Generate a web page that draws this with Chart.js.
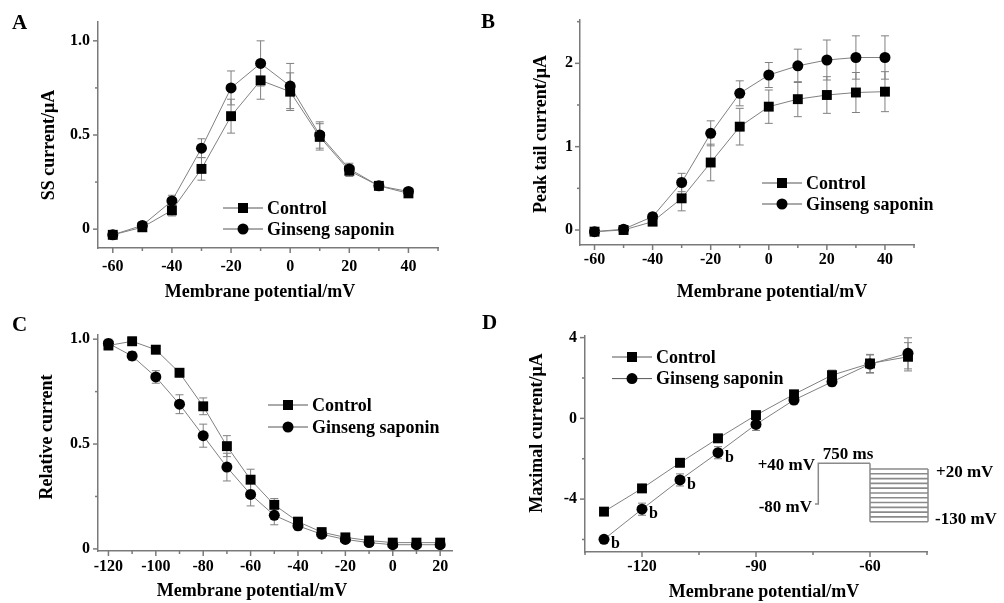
<!DOCTYPE html>
<html><head><meta charset="utf-8">
<script src="https://cdn.jsdelivr.net/npm/chart.js@4.4.1/dist/chart.umd.min.js"></script>
<style>
html,body{margin:0;padding:0;background:#fff;}
body{width:1004px;height:603px;position:relative;overflow:hidden;}
.pane{position:absolute;width:502px;height:302px;}
.pane canvas{display:block;}
.letter{position:absolute;font-family:'Liberation Serif','Times New Roman',serif;font-weight:bold;font-size:21px;line-height:21px;color:#000;}
</style></head><body>
<div class="pane" style="left:0;top:0"><canvas id="cA" width="502" height="302"></canvas></div>
<div class="pane" style="left:502px;top:0"><canvas id="cB" width="502" height="302"></canvas></div>
<div class="pane" style="left:0;top:301px"><canvas id="cC" width="502" height="302"></canvas></div>
<div class="pane" style="left:502px;top:301px"><canvas id="cD" width="502" height="302"></canvas></div>
<div class="letter" style="left:12px;top:12px">A</div>
<div class="letter" style="left:481px;top:11px">B</div>
<div class="letter" style="left:12px;top:314px">C</div>
<div class="letter" style="left:482px;top:312px">D</div>
<script>
// ---------- data ----------
const seriesNames = ['Control', 'Ginseng saponin'];

// Panel A: steady-state current
const voltsA = [-60, -50, -40, -30, -20, -10, 0, 10, 20, 30, 40];
const ssControl = [-0.03, 0.01, 0.10, 0.32, 0.60, 0.79, 0.73, 0.49, 0.31, 0.23, 0.19];
const ssControlErr = [0.02, 0.02, 0.03, 0.06, 0.09, 0.10, 0.10, 0.07, 0.03, 0.02, 0.02];
const ssGinseng = [-0.03, 0.02, 0.15, 0.43, 0.75, 0.88, 0.76, 0.50, 0.32, 0.23, 0.20];
const ssGinsengErr = [0.02, 0.02, 0.03, 0.05, 0.09, 0.12, 0.12, 0.07, 0.03, 0.02, 0.02];

// Panel B: peak tail current
const voltsB = [-60, -50, -40, -30, -20, -10, 0, 10, 20, 30, 40];
const tailControl = [-0.02, 0.00, 0.10, 0.38, 0.81, 1.24, 1.48, 1.57, 1.62, 1.65, 1.66];
const tailControlErr = [0.02, 0.02, 0.04, 0.15, 0.22, 0.22, 0.20, 0.21, 0.22, 0.24, 0.24];
const tailGinseng = [-0.02, 0.01, 0.16, 0.57, 1.16, 1.64, 1.86, 1.97, 2.04, 2.07, 2.07];
const tailGinsengErr = [0.02, 0.02, 0.04, 0.11, 0.15, 0.15, 0.15, 0.20, 0.24, 0.26, 0.26];

// Panel C: relative current
const voltsC = [-120, -110, -100, -90, -80, -70, -60, -50, -40, -30, -20, -10, 0, 10, 20];
const relControl = [0.97, 0.99, 0.95, 0.84, 0.68, 0.49, 0.33, 0.21, 0.13, 0.08, 0.055, 0.04, 0.03, 0.03, 0.03];
const relControlErr = [0.02, 0.02, 0.02, 0.02, 0.04, 0.05, 0.05, 0.03, 0.02, 0.02, 0.01, 0.01, 0.01, 0.01, 0.01];
const relGinseng = [0.98, 0.92, 0.82, 0.69, 0.54, 0.39, 0.26, 0.16, 0.11, 0.07, 0.045, 0.03, 0.02, 0.02, 0.02];
const relGinsengErr = [0.02, 0.02, 0.03, 0.045, 0.055, 0.066, 0.055, 0.045, 0.02, 0.02, 0.01, 0.01, 0.01, 0.01, 0.01];

// Panel D: maximal current
const voltsD = [-130, -120, -110, -100, -90, -80, -70, -60, -50];
const maxControl = [-4.62, -3.47, -2.20, -0.99, 0.16, 1.19, 2.14, 2.72, 3.05];
const maxControlErr = [0.15, 0.2, 0.2, 0.2, 0.2, 0.2, 0.25, 0.45, 0.7];
const maxGinseng = [-5.99, -4.50, -3.05, -1.70, -0.30, 0.91, 1.81, 2.69, 3.22];
const maxGinsengErr = [0.15, 0.3, 0.3, 0.3, 0.3, 0.2, 0.2, 0.45, 0.77];
const sigMarksD = [-130, -120, -110, -100];   // points marked "b"

// ticks (value list + label list; '' = unlabelled minor tick)
const xTicksAB = [-60, -50, -40, -30, -20, -10, 0, 10, 20, 30, 40, 50];
const xLabelsAB = ['-60', '', '-40', '', '-20', '', '0', '', '20', '', '40', ''];
const yTicksA = [0, 0.25, 0.5, 0.75, 1.0];
const yLabelsA = ['0', '', '0.5', '', '1.0'];
const yTicksB = [0, 0.5, 1, 1.5, 2, 2.5];
const yLabelsB = ['0', '', '1', '', '2', ''];
const xTicksC = [-120, -110, -100, -90, -80, -70, -60, -50, -40, -30, -20, -10, 0, 10, 20];
const xLabelsC = ['-120', '', '-100', '', '-80', '', '-60', '', '-40', '', '-20', '', '0', '', '20'];
const yTicksC = [0, 0.25, 0.5, 0.75, 1.0];
const yLabelsC = ['0', '', '0.5', '', '1.0'];
const xTicksD = [-135, -120, -105, -90, -75, -60, -45];
const xLabelsD = ['', '-120', '', '-90', '', '-60', ''];
const yTicksD = [-6, -4, -2, 0, 2, 4];
const yLabelsD = ['', '-4', '', '0', '', '4'];

const xTitle = 'Membrane potential/mV';
const yTitleA = 'SS current/\u03bcA';
const yTitleB = 'Peak tail current/\u03bcA';
const yTitleC = 'Relative current';
const yTitleD = 'Maximal current/\u03bcA';

// ---------- helpers ----------
const FONT = "'Liberation Serif','Times New Roman',serif";
const AXIS_COLOR = '#7a7a7a';
const LINE_COLOR = '#808080';

function drawMarker(ctx, style, x, y) {
  ctx.save();
  ctx.fillStyle = '#000';
  ctx.beginPath();
  if (style === 'rect') { ctx.rect(x - 5, y - 5, 10, 10); }
  else { ctx.arc(x, y, 5.5, 0, Math.PI * 2); }
  ctx.fill();
  ctx.restore();
}

function scaleCfg(axis, min, max, vals, labels, pad, fit) {
  return {
    type: 'linear', min: min, max: max,
    afterBuildTicks: s => { s.ticks = vals.map(v => ({ value: v })); },
    ticks: {
      autoSkip: false, maxRotation: 0, minRotation: 0, padding: pad, color: '#000',
      font: { family: FONT, size: 16, weight: 'bold' },
      callback: v => { const i = vals.indexOf(v); return i >= 0 ? labels[i] : ''; }
    },
    grid: { display: false, drawTicks: false },
    border: { display: true, color: AXIS_COLOR, width: 1.5 },
    afterFit: s => { if (axis === 'x') s.height = fit; else s.width = fit; }
  };
}

function makeDatasets(xs, c, ce, g, ge) {
  return [
    { label: seriesNames[0], data: xs.map((x, i) => ({ x: x, y: c[i] })), errors: ce, pointStyle: 'rect', pointRadius: 7 },
    { label: seriesNames[1], data: xs.map((x, i) => ({ x: x, y: g[i] })), errors: ge, pointStyle: 'circle', pointRadius: 5.5 }
  ].map(d => Object.assign(d, {
    showLine: true, fill: false, tension: 0, borderColor: LINE_COLOR, borderWidth: 1,
    pointBackgroundColor: '#000', pointBorderColor: '#000', pointBorderWidth: 0, pointHoverRadius: d.pointRadius
  }));
}

const errorBars = {
  id: 'errorBars',
  beforeDatasetsDraw(chart) {
    const ctx = chart.ctx, ys = chart.scales.y;
    ctx.save();
    ctx.strokeStyle = LINE_COLOR; ctx.lineWidth = 1;
    chart.data.datasets.forEach((ds, di) => {
      const meta = chart.getDatasetMeta(di);
      ds.data.forEach((p, j) => {
        const e = ds.errors[j]; const el = meta.data[j];
        const y1 = ys.getPixelForValue(p.y + e), y2 = ys.getPixelForValue(p.y - e);
        ctx.beginPath();
        ctx.moveTo(el.x, y1); ctx.lineTo(el.x, y2);
        ctx.moveTo(el.x - 4, y1); ctx.lineTo(el.x + 4, y1);
        ctx.moveTo(el.x - 4, y2); ctx.lineTo(el.x + 4, y2);
        ctx.stroke();
      });
    });
    ctx.restore();
  }
};

const tickMarks = {
  id: 'tickMarks',
  afterDraw(chart) {
    const ctx = chart.ctx;
    ctx.save();
    ctx.strokeStyle = AXIS_COLOR; ctx.lineWidth = 1.5;
    ['x', 'y'].forEach(id => {
      const s = chart.scales[id];
      s.ticks.forEach(t => {
        const len = (t.label && t.label !== '') ? 5 : 3;
        const p = s.getPixelForValue(t.value);
        ctx.beginPath();
        if (id === 'x') { ctx.moveTo(p, s.top); ctx.lineTo(p, s.top + len); }
        else { ctx.moveTo(s.right, p); ctx.lineTo(s.right - len, p); }
        ctx.stroke();
      });
    });
    ctx.restore();
  }
};

const panelText = {
  id: 'panelText',
  afterDraw(chart, args, o) {
    const ctx = chart.ctx, ca = chart.chartArea;
    ctx.save();
    ctx.fillStyle = '#000';
    ctx.font = 'bold 18px ' + FONT;
    ctx.textAlign = 'center'; ctx.textBaseline = 'middle';
    // axis titles
    ctx.fillText(o.xTitle, o.xTitlePos[0], o.xTitlePos[1]);
    ctx.save();
    ctx.translate(o.yTitlePos[0], o.yTitlePos[1]);
    ctx.rotate(-Math.PI / 2);
    ctx.fillText(o.yTitle, 0, 0);
    ctx.restore();
    // legend
    const lx = ca.left + o.legend[0], ly = ca.top + o.legend[1];
    chart.data.datasets.forEach((ds, i) => {
      const y = ly + i * o.legend[2];
      ctx.strokeStyle = '#555'; ctx.lineWidth = 1;
      ctx.beginPath(); ctx.moveTo(lx, y); ctx.lineTo(lx + 40, y); ctx.stroke();
      drawMarker(ctx, ds.pointStyle, lx + 20, y);
      ctx.fillStyle = '#000';
      ctx.textAlign = 'left';
      ctx.fillText(ds.label, lx + 44, y + 1);
    });
    ctx.restore();
  }
};

function makeChart(id, xs, c, ce, g, ge, xScale, yScale, layoutPad, textOpts, extra) {
  return new Chart(document.getElementById(id), {
    type: 'line',
    data: { datasets: makeDatasets(xs, c, ce, g, ge) },
    options: {
      responsive: false, animation: false, devicePixelRatio: 1,
      layout: { padding: layoutPad },
      scales: { x: xScale, y: yScale },
      plugins: { legend: { display: false }, tooltip: { enabled: false }, panelText: textOpts },
      events: []
    },
    plugins: [errorBars, tickMarks, panelText].concat(extra || [])
  });
}

// ---------- panel A ----------
makeChart('cA', voltsA, ssControl, ssControlErr, ssGinseng, ssGinsengErr,
  scaleCfg('x', -65, 50, xTicksAB, xLabelsAB, 9, 54),
  scaleCfg('y', -0.1, 1.1, yTicksA, yLabelsA, 8, 98),
  { left: 0, top: 22, right: 64, bottom: 0 },
  { xTitle: xTitle, xTitlePos: [260, 292], yTitle: yTitleA, yTitlePos: [49, 145], legend: [125, 186, 21] });

// ---------- panel B ----------
makeChart('cB', voltsB, tailControl, tailControlErr, tailGinseng, tailGinsengErr,
  scaleCfg('x', -65, 50, xTicksAB, xLabelsAB, 5.4, 57),
  scaleCfg('y', -0.18, 2.52, yTicksB, yLabelsB, 7, 78),
  { left: 0, top: 20, right: 90, bottom: 0 },
  { xTitle: xTitle, xTitlePos: [270, 292], yTitle: yTitleB, yTitlePos: [39, 134], legend: [182, 163, 21] });

// ---------- panel C ----------
makeChart('cC', voltsC, relControl, relControlErr, relGinseng, relGinsengErr,
  scaleCfg('x', -124.4, 25, xTicksC, xLabelsC, 6.4, 52),
  scaleCfg('y', -0.01, 1.02, yTicksC, yLabelsC, 8, 98),
  { left: 0, top: 34, right: 50, bottom: 0 },
  { xTitle: xTitle, xTitlePos: [252, 290], yTitle: yTitleC, yTitlePos: [47, 136], legend: [170, 70, 22] });

// ---------- panel D ----------
const sigLabels = {
  id: 'sigLabels',
  afterDatasetsDraw(chart) {
    const ctx = chart.ctx, xs = chart.scales.x, ys = chart.scales.y;
    ctx.save();
    ctx.fillStyle = '#000'; ctx.font = 'bold 16px ' + FONT;
    ctx.textAlign = 'left'; ctx.textBaseline = 'middle';
    sigMarksD.forEach(v => {
      const i = voltsD.indexOf(v);
      ctx.fillText('b', xs.getPixelForValue(v) + 7, ys.getPixelForValue(maxGinseng[i]) + 5);
    });
    ctx.restore();
  }
};
const protocolInset = {
  id: 'protocolInset',
  afterDraw(chart) {
    const ctx = chart.ctx, ca = chart.chartArea;
    const L = ca.left, T = ca.top;
    ctx.save();
    ctx.strokeStyle = '#8a8a8a'; ctx.lineWidth = 1.5;
    ctx.beginPath();
    ctx.moveTo(L + 230, T + 168); ctx.lineTo(L + 233.3, T + 168); ctx.lineTo(L + 233.3, T + 127.3); ctx.lineTo(L + 285, T + 127.3);
    ctx.moveTo(L + 285, T + 127.3); ctx.lineTo(L + 285, T + 185.7);
    ctx.moveTo(L + 343, T + 133); ctx.lineTo(L + 343, T + 185.7);
    ctx.stroke();
    ctx.lineWidth = 1.6;
    const n = 12;
    for (let k = 0; k < n; k++) {
      const y = T + 133 + k * (52.7 / (n - 1));
      ctx.beginPath(); ctx.moveTo(L + 285, y); ctx.lineTo(L + 343, y); ctx.stroke();
    }
    ctx.fillStyle = '#000'; ctx.font = 'bold 17px ' + FONT; ctx.textBaseline = 'middle';
    ctx.textAlign = 'right';
    ctx.fillText('+40 mV', L + 230, T + 130);
    ctx.fillText('-80 mV', L + 227, T + 172);
    ctx.textAlign = 'center';
    ctx.fillText('750 ms', L + 263, T + 119);
    ctx.textAlign = 'left';
    ctx.fillText('+20 mV', L + 351, T + 137);
    ctx.fillText('-130 mV', L + 350, T + 184);
    ctx.restore();
  }
};
makeChart('cD', voltsD, maxControl, maxControlErr, maxGinseng, maxGinsengErr,
  scaleCfg('x', -135, -45, xTicksD, xLabelsD, 4.8, 51),
  scaleCfg('y', -6.62, 4.08, yTicksD, yLabelsD, 8, 83),
  { left: 0, top: 35, right: 77, bottom: 0 },
  { xTitle: xTitle, xTitlePos: [262, 291], yTitle: yTitleD, yTitlePos: [35.5, 132], legend: [27, 21, 21.6] },
  [sigLabels, protocolInset]);
</script>
</body></html>
